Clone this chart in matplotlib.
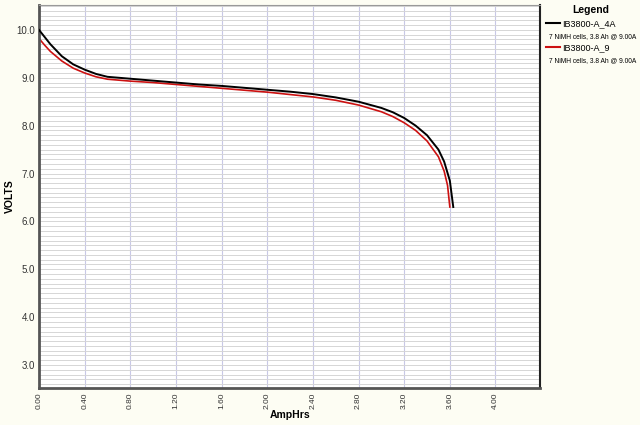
import numpy as np
import matplotlib.pyplot as plt
from matplotlib.lines import Line2D

# ---------- data ----------
ah_4a = [0.0, 0.05, 0.1, 0.2, 0.3, 0.4, 0.5, 0.6, 0.8, 1.0, 1.2, 1.4, 1.6, 1.8,
         2.0, 2.2, 2.4, 2.6, 2.8, 3.0, 3.1, 3.2, 3.3, 3.4, 3.5, 3.55, 3.6, 3.63]
volts_4a = [10.0, 9.85, 9.7, 9.45, 9.28, 9.17, 9.08, 9.02, 8.98, 8.94, 8.9, 8.86,
            8.83, 8.79, 8.75, 8.71, 8.66, 8.59, 8.5, 8.37, 8.28, 8.16, 8.0, 7.8,
            7.5, 7.25, 6.85, 6.3]

ah_9 = [0.0, 0.05, 0.1, 0.2, 0.3, 0.4, 0.5, 0.6, 0.8, 1.0, 1.2, 1.4, 1.6, 1.8,
        2.0, 2.2, 2.4, 2.6, 2.8, 3.0, 3.1, 3.2, 3.3, 3.4, 3.5, 3.55, 3.58, 3.6]
volts_9 = [9.82, 9.68, 9.55, 9.35, 9.2, 9.1, 9.02, 8.97, 8.93, 8.9, 8.86, 8.82,
           8.78, 8.74, 8.7, 8.65, 8.6, 8.53, 8.43, 8.29, 8.19, 8.06, 7.9, 7.68,
           7.35, 7.05, 6.75, 6.3]

series_names = ["IB3800-A_4A", "IB3800-A_9"]
series_desc = ["7 NiMH cells, 3.8 Ah @ 9.00A", "7 NiMH cells, 3.8 Ah @ 9.00A"]
series_colors = ["#000000", "#CC1111"]

x_ticks = [0.0, 0.4, 0.8, 1.2, 1.6, 2.0, 2.4, 2.8, 3.2, 3.6, 4.0]
y_ticks = [3.0, 4.0, 5.0, 6.0, 7.0, 8.0, 9.0, 10.0]

plt.rcParams["font.family"] = ["Liberation Sans", "DejaVu Sans"]

fig = plt.figure(figsize=(6.4, 4.25), dpi=100, facecolor="#FDFDF3")
ax = fig.add_axes([39 / 640, 1 - 388 / 425, 501 / 640, 383 / 425])
ax.set_facecolor("white")

# grid: fine horizontal lines every 0.1 V, vertical every 0.4 Ah
ax.set_xlim(0, 4.39)
ax.set_ylim(2.52, 10.52)
ax.set_yticks(np.arange(2.6, 10.55, 0.1), minor=True)
ax.grid(True, which="minor", axis="y", color="#D6D6D6", linewidth=0.7)
ax.grid(True, which="major", axis="y", color="#D6D6D6", linewidth=0.7)
ax.grid(True, which="major", axis="x", color="#C8C8E6", linewidth=0.8)
ax.set_axisbelow(True)

ax.plot(ah_4a, volts_4a, color=series_colors[0], linewidth=1.4, zorder=3)
ax.plot(ah_9, volts_9, color=series_colors[1], linewidth=1.2, zorder=2)

ax.set_xticks(x_ticks)
ax.set_xticklabels([f"{v:.2f}" for v in x_ticks], rotation=90, fontsize=6)
ax.set_yticks(y_ticks)
ax.set_yticklabels([f"{v:.1f}" for v in y_ticks], fontsize=7)
ax.tick_params(which="both", length=0, pad=3, colors="#333333")

ax.set_xlabel("AmpHrs", fontsize=7.5, fontweight="bold", va="center")
ax.set_ylabel("VOLTS", fontsize=7.5, fontweight="bold", va="center")
ax.xaxis.set_label_coords((290 - 39) / 501, -(415 - 388) / 383)
ax.yaxis.set_label_coords(-(39 - 10) / 501, 0.5)

for side in ["left", "bottom"]:
    ax.spines[side].set_color("#555555")
    ax.spines[side].set_linewidth(2)
ax.spines["right"].set_color("#222222")
ax.spines["right"].set_linewidth(1.5)
ax.spines["top"].set_color("#999999")
ax.spines["top"].set_linewidth(0.8)

# legend outside to the right
handles, labels = [], []
for name, desc, col in zip(series_names, series_desc, series_colors):
    handles.append(Line2D([], [], color=col, linewidth=1.5))
    labels.append(name)
    handles.append(Line2D([], [], color="none"))
    labels.append(desc)
leg = fig.legend(handles, labels, loc="upper left", bbox_to_anchor=(0.845, 1.0),
                 frameon=False, title="Legend", fontsize=6.5, handlelength=1.5,
                 handletextpad=0.3, labelspacing=0.38, borderpad=0.1)
leg.get_title().set_fontsize(7.5)
leg.get_title().set_fontweight("bold")
for i, t in enumerate(leg.get_texts()):
    t.set_fontsize(6.5 if i % 2 == 0 else 4.8)
    if i % 2 == 1:
        t.set_position((-13, 0))
leg._legend_box.align = "left"
leg.get_title().set_position((26, 0))

fig.savefig("out.png", dpi=100, facecolor=fig.get_facecolor())
